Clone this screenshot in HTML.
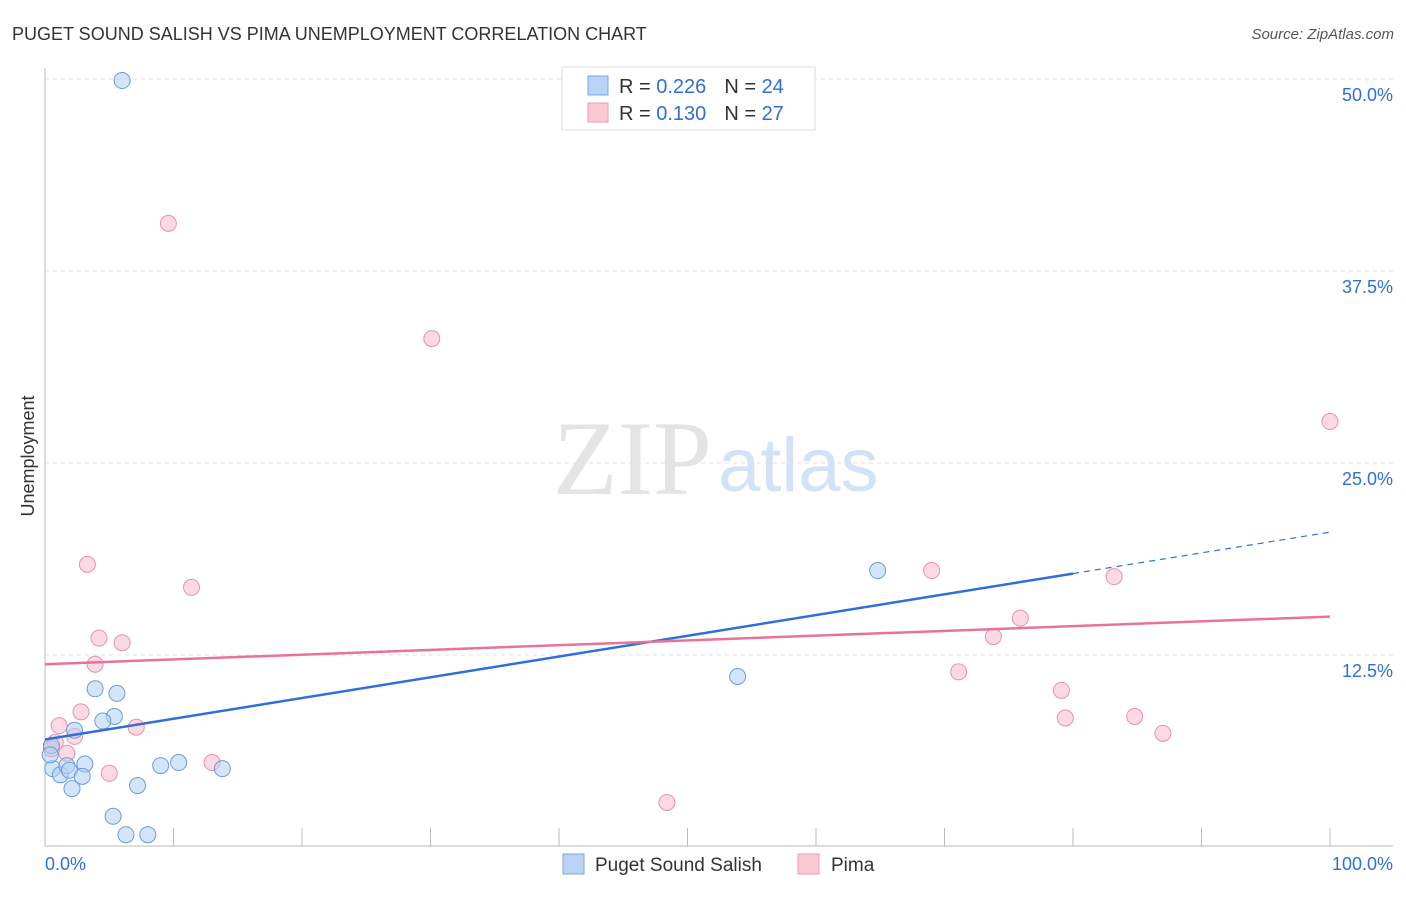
<!DOCTYPE html>
<html><head><meta charset="utf-8"><style>
body{margin:0;background:#fff;font-family:"Liberation Sans",sans-serif}
svg text{font-family:"Liberation Sans",sans-serif}
</style></head><body>
<svg width="1406" height="892" xmlns="http://www.w3.org/2000/svg">
<text x="12" y="40" font-size="18" fill="#333">PUGET SOUND SALISH VS PIMA UNEMPLOYMENT CORRELATION CHART</text>
<text x="1394" y="39" font-size="15" fill="#555" text-anchor="end" font-style="italic">Source: ZipAtlas.com</text>
<text x="553" y="494" font-size="106" fill="#e4e4e4" style="font-family:'Liberation Serif',serif">ZIP</text>
<text x="718" y="491" font-size="76" fill="#d4e2f5">atlas</text>
<g id="grid"></g>
<g id="axes"></g>
<g id="marks"></g>
<text transform="translate(34,456) rotate(-90)" font-size="18" fill="#333" text-anchor="middle">Unemployment</text>
<g>
<rect x="562" y="67" width="253" height="63" fill="#fff" stroke="#ddd"/>
<rect x="588" y="76" width="20" height="19" fill="#b9d3f5" stroke="#7aa6e3"/>
<rect x="588" y="103" width="20" height="19" fill="#fcc8d6" stroke="#eb9ab4"/>
<text x="619" y="93" font-size="20" fill="#333">R = <tspan fill="#2f6fd6">0.226</tspan><tspan dx="18">N = </tspan><tspan fill="#2f6fd6">24</tspan></text>
<text x="619" y="120" font-size="20" fill="#333">R = <tspan fill="#2f6fd6"> 0.130</tspan><tspan dx="18">N = </tspan><tspan fill="#2f6fd6">27</tspan></text>
</g>
<rect x="563" y="854" width="21" height="20" fill="#b9d3f5" stroke="#7aa6e3"/>
<text x="595" y="871" font-size="19" fill="#333">Puget Sound Salish</text>
<rect x="798" y="854" width="21" height="20" fill="#fcc8d6" stroke="#eb9ab4"/>
<text x="831" y="871" font-size="19" fill="#333">Pima</text>
</svg>
<script>
const yTicks=[12.5,25,37.5,50];
const yTickLabels=["12.5%","25.0%","37.5%","50.0%"];
const xTickLabels=["0.0%","100.0%"];
const blueX=[6.0,64.8,53.9,3.9,5.6,5.4,4.5,2.3,0.5,0.6,1.2,1.7,1.9,3.1,2.9,2.1,7.2,9.0,10.4,13.8,5.3,6.3,8.0,0.4];
const blueY=[49.9,18.0,11.1,10.3,10.0,8.5,8.2,7.6,6.6,5.1,4.7,5.3,5.0,5.4,4.6,3.8,4.0,5.3,5.5,5.1,2.0,0.8,0.8,6.0];
const pinkX=[9.6,30.1,100,3.3,11.4,69.0,83.2,75.9,73.8,4.2,6.0,3.9,71.1,79.1,79.4,84.8,87.0,2.8,7.1,1.1,2.3,0.8,0.5,1.7,5.0,13.0,48.4];
const pinkY=[40.6,33.1,27.7,18.4,16.9,18.0,17.6,14.9,13.7,13.6,13.3,11.9,11.4,10.2,8.4,8.5,7.4,8.8,7.8,7.9,7.2,6.8,6.4,6.1,4.8,5.5,2.9];
const blueTrend=[7.0,20.5]; const blueSolidEnd=80;
const pinkTrend=[11.9,15.0];
const NS="http://www.w3.org/2000/svg";
const sx=v=>45+v*12.85, sy=v=>847-v*15.36;
function mk(t,a,p){const e=document.createElementNS(NS,t);for(const k in a)e.setAttribute(k,a[k]);p.appendChild(e);return e;}
const grid=document.getElementById('grid'),axes=document.getElementById('axes'),marks=document.getElementById('marks');
yTicks.forEach((t,i)=>{
 const l=mk('line',{x1:45,x2:1393,y1:sy(t),y2:sy(t),stroke:'#e2e2e2','stroke-dasharray':'4,4'},grid);
 
 
 const tx=mk('text',{x:1393,y:sy(t)+22,'font-size':18,fill:'#2f6fd6','text-anchor':'end'},axes);
 tx.textContent=yTickLabels[i];
 
 
});
const ya=mk('line',{x1:45,x2:45,y1:68,y2:846,stroke:'#bbb'},axes);


const xa=mk('line',{x1:45,x2:1393,y1:846,y2:846,stroke:'#bbb'},axes);


for(let i=0;i<=10;i++){const t=mk('line',{x1:sx(i*10),x2:sx(i*10),y1:828,y2:846,stroke:'#bbb'},axes);
 
 }
[[0,'start',45],[1,'end',1393]].forEach(([i,a,x])=>{const t=mk('text',{x:x,y:870,'font-size':18,fill:'#2f6fd6','text-anchor':a},axes);t.textContent=xTickLabels[i];
 
 });
function pts(X,Y,fill,stroke,name){X.forEach((x,i)=>{const c=mk('circle',{cx:sx(x),cy:sy(Y[i]),r:8,fill:fill,'fill-opacity':0.55,stroke:stroke,'stroke-width':1},marks);
 
 });}
pts(pinkX,pinkY,'#f8bccd','#e890ad','pima-point');
pts(blueX,blueY,'#b3cff3','#6a9be0','puget-point');
const by=x=>blueTrend[0]+(blueTrend[1]-blueTrend[0])*x/100;
const b1=mk('line',{x1:sx(0),y1:sy(by(0)),x2:sx(blueSolidEnd),y2:sy(by(blueSolidEnd)),stroke:'#2f6fd6','stroke-width':2.5},marks);


const b2=mk('line',{x1:sx(blueSolidEnd),y1:sy(by(blueSolidEnd)),x2:sx(100),y2:sy(by(100)),stroke:'#2f6fd6','stroke-width':1.2,'stroke-dasharray':'6,5'},marks);


const p1=mk('line',{x1:sx(0),y1:sy(pinkTrend[0]),x2:sx(100),y2:sy(pinkTrend[1]),stroke:'#e8739a','stroke-width':2.5},marks);


</script>
</body></html>
